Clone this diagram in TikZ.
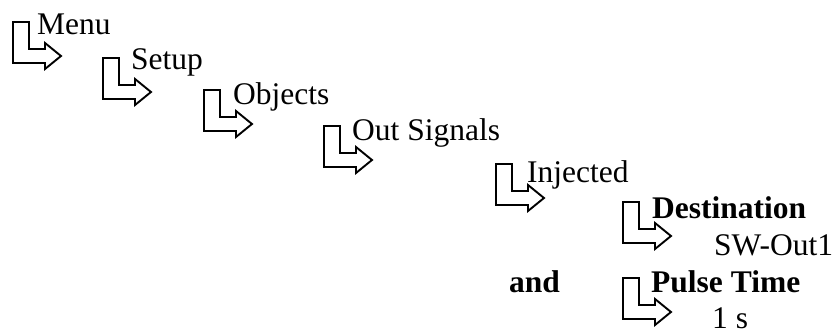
\documentclass[tikz,border=0pt]{standalone}
\usepackage{fontspec}
\setmainfont{Liberation Serif}
\begin{document}
\begin{tikzpicture}[x=1pt,y=-1pt,
  arrowline/.style={draw=black,line width=1.9pt,line join=miter},
  lbl/.style={anchor=base west,inner sep=0pt,font=\fontsize{31.5}{38}\selectfont},
  blbl/.style={lbl,font=\fontsize{31.5}{38}\selectfont\bfseries},
  bent/.pic={\draw[arrowline] (0,0) -- (16,0) -- (16,27) -- (32,27) -- (32,21) -- (48,34) -- (32,47) -- (32,41) -- (0,41) -- cycle;}]
\useasboundingbox (0,0) rectangle (836,329);
\pic at (13,22) {bent};
\pic at (103,58) {bent};
\pic at (204,90) {bent};
\pic at (324,126) {bent};
\pic at (496,164) {bent};
\pic at (623,202) {bent};
\pic at (623,278) {bent};
\node[lbl] (menu) at (37,35) {Menu};
\node[lbl] (setup) at (131,70) {Setup};
\node[lbl] (objects) at (233,104) {Objects};
\node[lbl] (out) at (352,140) {Out Signals};
\node[lbl] (inj) at (527,182) {Injected};
\node[blbl] (dest) at (652,218) {Destination};
\node[lbl] (sw) at (714,255) {SW-Out1};
\node[blbl] (and) at (509,292) {and};
\node[blbl] (pulse) at (651,292) {Pulse Time};
\node[lbl] (one) at (712,328) {1 s};
\end{tikzpicture}
\end{document}
